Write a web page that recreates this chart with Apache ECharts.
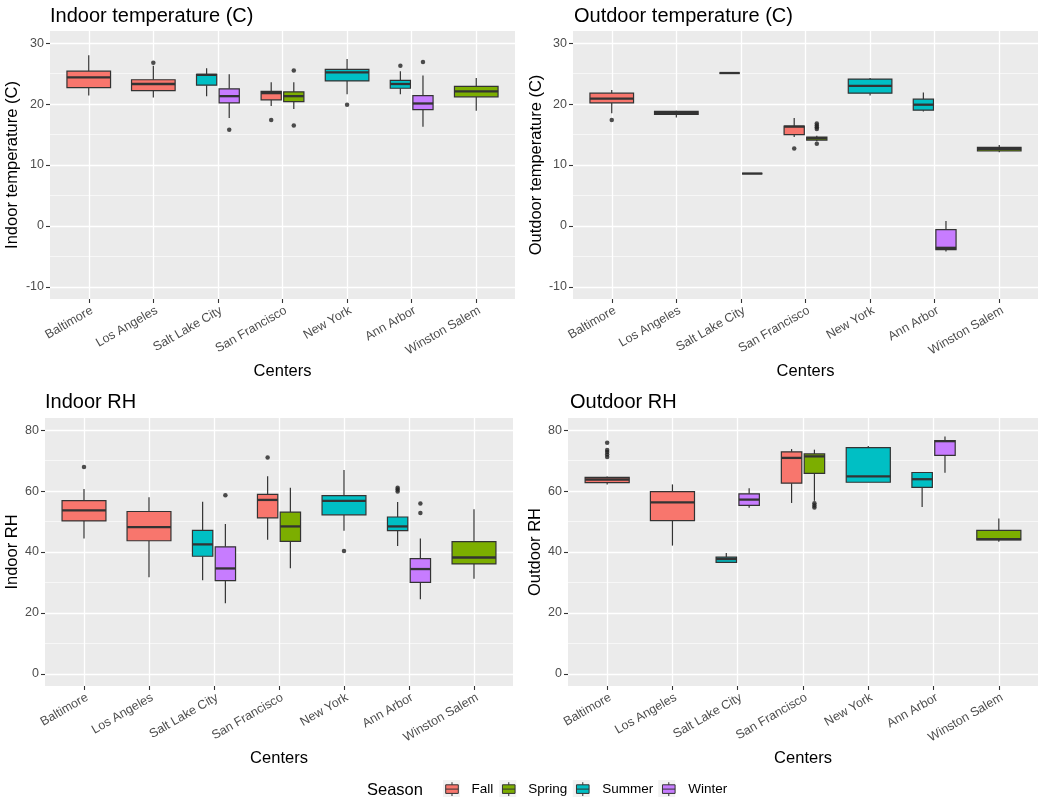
<!DOCTYPE html>
<html><head><meta charset="utf-8">
<script src="https://cdn.jsdelivr.net/npm/echarts@6/dist/echarts.min.js"></script>
<style>html,body{margin:0;padding:0;background:#fff}#chart{width:1050px;height:804px}</style>
</head><body><div id="chart"></div>
<script>
const centers = ['Baltimore','Los Angeles','Salt Lake City','San Francisco','New York','Ann Arbor','Winston Salem'];
const seasons = ['Fall','Spring','Summer','Winter'];
const seasonColors = ['#F8766D','#7CAE00','#00BFC4','#C77CFF'];
const panelTitles = ['Indoor temperature (C)','Outdoor temperature (C)','Indoor RH','Outdoor RH'];
const xTitle = 'Centers';
const legendTitle = 'Season';
const tempTicks = [-10,0,10,20,30];
const tempMinorTicks = [-5,5,15,25];
const rhTicks = [0,20,40,60,80];
const rhMinorTicks = [10,30,50,70];

// [center, season, lower whisker, Q1, median, Q3, upper whisker]
const indoorTempBoxes = [
  ['Baltimore','Fall',21.4,22.7,24.4,25.4,28.0],
  ['Los Angeles','Fall',21.1,22.2,23.3,24.0,26.3],
  ['Salt Lake City','Summer',21.3,23.1,24.8,24.9,25.9],
  ['Salt Lake City','Winter',17.7,20.2,21.3,22.5,24.9],
  ['San Francisco','Fall',19.7,20.7,21.8,22.1,23.6],
  ['San Francisco','Spring',19.2,20.4,21.3,22.0,23.6],
  ['New York','Summer',21.6,23.8,25.2,25.7,27.4],
  ['Ann Arbor','Summer',21.6,22.6,23.3,23.9,25.4],
  ['Ann Arbor','Winter',16.3,19.1,20.1,21.4,24.7],
  ['Winston Salem','Spring',18.9,21.2,22.1,22.9,24.3]
];
const indoorTempOutliers = [
  ['Los Angeles','Fall',26.8],
  ['Salt Lake City','Winter',15.8],
  ['San Francisco','Fall',17.4],
  ['San Francisco','Spring',25.5],['San Francisco','Spring',16.5],
  ['New York','Summer',19.9],
  ['Ann Arbor','Summer',26.3],
  ['Ann Arbor','Winter',26.9]
];
const outdoorTempBoxes = [
  ['Baltimore','Fall',18.5,20.2,20.9,21.8,22.3],
  ['Los Angeles','Fall',17.8,18.3,18.5,18.8,18.9],
  ['Salt Lake City','Summer',25.1,25.1,25.1,25.1,25.1],
  ['Salt Lake City','Winter',8.6,8.6,8.6,8.6,8.6],
  ['San Francisco','Fall',14.6,15.0,16.3,16.4,17.7],
  ['San Francisco','Spring',13.9,14.1,14.4,14.6,14.8],
  ['New York','Summer',21.4,21.8,23.0,24.1,24.3],
  ['Ann Arbor','Summer',18.8,19.0,19.9,20.8,21.9],
  ['Ann Arbor','Winter',-4.2,-3.9,-3.6,-0.6,0.8],
  ['Winston Salem','Spring',12.1,12.3,12.6,12.9,13.3]
];
const outdoorTempOutliers = [
  ['Baltimore','Fall',17.4],
  ['San Francisco','Fall',12.7],
  ['San Francisco','Spring',16.8],['San Francisco','Spring',16.5],['San Francisco','Spring',16.2],
  ['San Francisco','Spring',15.9],['San Francisco','Spring',13.5]
];
const indoorRhBoxes = [
  ['Baltimore','Fall',44.4,50.2,53.7,56.9,60.7],
  ['Los Angeles','Fall',31.7,43.7,48.2,53.3,58.0],
  ['Salt Lake City','Summer',30.7,38.6,42.5,47.1,56.5],
  ['Salt Lake City','Winter',23.2,30.6,34.6,41.7,49.2],
  ['San Francisco','Fall',44.0,51.2,57.1,58.9,64.9],
  ['San Francisco','Spring',34.7,43.5,48.4,53.1,61.1],
  ['New York','Summer',47.0,52.2,56.8,58.5,66.9],
  ['Ann Arbor','Summer',42.0,47.0,48.4,51.5,56.4],
  ['Ann Arbor','Winter',24.5,30.0,34.4,37.8,44.4],
  ['Winston Salem','Spring',31.2,36.1,38.2,43.4,54.0]
];
const indoorRhOutliers = [
  ['Baltimore','Fall',67.9],
  ['Salt Lake City','Winter',58.6],
  ['San Francisco','Fall',71.0],
  ['New York','Summer',40.3],
  ['Ann Arbor','Summer',61.1],['Ann Arbor','Summer',60.5],['Ann Arbor','Summer',59.9],
  ['Ann Arbor','Winter',55.9],['Ann Arbor','Winter',52.8]
];
const outdoorRhBoxes = [
  ['Baltimore','Fall',62.2,62.8,63.8,64.5,64.8],
  ['Los Angeles','Fall',42.1,50.3,56.3,59.8,62.2],
  ['Salt Lake City','Summer',36.6,36.6,37.7,38.3,39.7],
  ['Salt Lake City','Winter',54.5,55.3,57.2,59.1,60.9],
  ['San Francisco','Fall',56.1,62.6,70.9,72.9,73.8],
  ['San Francisco','Spring',56.8,65.8,71.4,72.2,73.6],
  ['New York','Summer',62.9,62.9,64.8,74.3,74.8],
  ['Ann Arbor','Summer',54.8,61.2,63.9,66.1,66.3],
  ['Ann Arbor','Winter',66.0,71.7,76.4,76.6,77.9],
  ['Winston Salem','Spring',43.4,44.0,44.2,47.1,51.0]
];
const outdoorRhOutliers = [
  ['Baltimore','Fall',75.9],['Baltimore','Fall',73.5],['Baltimore','Fall',72.8],
  ['Baltimore','Fall',72.0],['Baltimore','Fall',71.2],
  ['San Francisco','Spring',56.0],['San Francisco','Spring',55.3],['San Francisco','Spring',54.6]
];

const FONT = "'Liberation Sans', Arial, sans-serif";
const DODGE = 0.7;

const panels = [
  {boxes: indoorTempBoxes, outliers: indoorTempOutliers, ticks: tempTicks, minor: tempMinorTicks, min: -12, max: 32,
   grid: {left: 50, top: 31, width: 465, height: 268}, title: {left: 50, top: 6}, nameGap: 29},
  {boxes: outdoorTempBoxes, outliers: outdoorTempOutliers, ticks: tempTicks, minor: tempMinorTicks, min: -12, max: 32,
   grid: {left: 573, top: 31, width: 465, height: 268}, title: {left: 574, top: 6}, nameGap: 28},
  {boxes: indoorRhBoxes, outliers: indoorRhOutliers, ticks: rhTicks, minor: rhMinorTicks, min: -4, max: 84,
   grid: {left: 45, top: 418, width: 468, height: 268}, title: {left: 45, top: 392}, nameGap: 24},
  {boxes: outdoorRhBoxes, outliers: outdoorRhOutliers, ticks: rhTicks, minor: rhMinorTicks, min: -4, max: 84,
   grid: {left: 568, top: 418, width: 470, height: 268}, title: {left: 570, top: 392}, nameGap: 23}
];

function slotInfo(boxes, center, season) {
  const present = seasons.filter(s => boxes.some(b => b[0] === center && b[1] === s));
  return {slot: present.indexOf(season), n: present.length};
}
function dodgeX(boxes, center, season) {
  const {slot, n} = slotInfo(boxes, center, season);
  const w = DODGE / n;
  return centers.indexOf(center) + 1 - DODGE / 2 + w * (slot + 0.5);
}

function renderBox(params, api) {
  const cat = api.value(0), slot = api.value(1), n = api.value(2);
  const slotW = DODGE / n;
  const cx = cat - DODGE / 2 + slotW * (slot + 0.5);
  const x = api.coord([cx, api.value(5)])[0];
  const half = api.size([slotW, 0])[0] / 2 - (n > 1 ? 1.2 : 0.8);
  const y = k => api.coord([cx, api.value(k)])[1];
  const yl = y(3), y1 = y(4), ym = y(5), y3 = y(6), yh = y(7);
  const fill = api.visual('color');
  const stroke = '#333333';
  return {type: 'group', children: [
    {type: 'line', shape: {x1: x, y1: yh, x2: x, y2: y3}, style: {stroke, lineWidth: 1.2}},
    {type: 'line', shape: {x1: x, y1: y1, x2: x, y2: yl}, style: {stroke, lineWidth: 1.2}},
    {type: 'rect', shape: {x: x - half, y: y3, width: 2 * half, height: y1 - y3}, style: {fill, stroke, lineWidth: 1.2}},
    {type: 'line', shape: {x1: x - half, y1: ym, x2: x + half, y2: ym}, style: {stroke, lineWidth: 2.3}}
  ]};
}

const catValues = centers.map((c, i) => i + 1);
const legendCommon = {
  data: seasons, left: 443, top: 780, padding: 0, orient: 'horizontal', selectedMode: false,
  itemWidth: 17, itemHeight: 17, itemGap: 6.5,
  textStyle: {fontSize: 13.5, color: '#000000', fontFamily: FONT, padding: [0, 0, 0, 6]}
};
const option = {
  animation: false,
  backgroundColor: '#ffffff',
  textStyle: {fontFamily: FONT},
  title: panels.map((p, i) => ({
    text: panelTitles[i], left: p.title.left, top: p.title.top, padding: 0,
    textStyle: {fontSize: 20, fontWeight: 'normal', color: '#000000', fontFamily: FONT}
  })),
  grid: panels.map(p => Object.assign({show: true, backgroundColor: '#EBEBEB', borderWidth: 0}, p.grid)),
  xAxis: panels.map((p, i) => ({
    type: 'value', gridIndex: i, min: 0.4, max: 7.6,
    name: xTitle, nameLocation: 'middle', nameGap: 64,
    nameTextStyle: {fontSize: 16.5, color: '#000000', fontFamily: FONT},
    axisLine: {show: false, onZero: false},
    axisTick: {show: true, customValues: catValues, length: 4, lineStyle: {color: '#333333', width: 1.1}},
    axisLabel: {customValues: catValues, formatter: v => centers[Math.round(v) - 1], rotate: 30,
      align: 'right', verticalAlign: 'top',
      fontSize: 12.5, color: '#4D4D4D', margin: 5, fontFamily: FONT},
    splitLine: {show: true, lineStyle: {color: '#ffffff', width: 1.3}}
  })),
  yAxis: panels.flatMap((p, i) => [
    {
      type: 'value', gridIndex: i, min: p.min, max: p.max,
      name: panelTitles[i], nameLocation: 'middle', nameGap: p.nameGap,
      nameTextStyle: {fontSize: 16.5, color: '#000000', fontFamily: FONT},
      axisLine: {show: false, onZero: false},
      axisTick: {show: true, customValues: p.ticks, length: 4, lineStyle: {color: '#333333', width: 1.1}},
      axisLabel: {customValues: p.ticks, fontSize: 12.5, color: '#4D4D4D', margin: 6, fontFamily: FONT},
      splitLine: {show: true, lineStyle: {color: '#ffffff', width: 1.3}}
    },
    {
      type: 'value', gridIndex: i, min: p.min, max: p.max, position: 'left',
      axisLine: {show: false, onZero: false},
      axisTick: {show: false, customValues: p.minor},
      axisLabel: {show: false, customValues: p.minor},
      splitLine: {show: true, lineStyle: {color: '#ffffff', width: 0.6}}
    }
  ]),
  legend: [
    Object.assign({}, legendCommon, {
      z: 2, icon: 'rect',
      itemStyle: {color: '#F2F2F2', borderWidth: 0},
      textStyle: Object.assign({}, legendCommon.textStyle, {color: 'rgba(0,0,0,0)'})
    }),
    Object.assign({}, legendCommon, {
      z: 3,
      icon: 'path://M0,0M17,17M2.2,4.3H14.8V12.9H2.2Z M2.2,8.6H14.8 M8.5,1.7V4.3 M8.5,12.9V15.5',
      itemStyle: {borderColor: '#333333', borderWidth: 1}
    })
  ],
  graphic: [{type: 'text', left: 367, top: 782,
    style: {text: legendTitle, fontSize: 16.5, fill: '#000000', fontFamily: FONT}}],
  series: panels.flatMap((p, i) => {
    const boxSeries = seasons.map((s, si) => ({
      type: 'custom', name: s, xAxisIndex: i, yAxisIndex: 2 * i,
      itemStyle: {color: seasonColors[si]},
      renderItem: renderBox,
      encode: {x: 0, y: 5},
      data: p.boxes.filter(b => b[1] === s).map(b => {
        const {slot, n} = slotInfo(p.boxes, b[0], s);
        return [centers.indexOf(b[0]) + 1, slot, n, b[2], b[3], b[4], b[5], b[6]];
      })
    }));
    const outSeries = {
      type: 'scatter', name: 'outliers', xAxisIndex: i, yAxisIndex: 2 * i,
      symbolSize: 4.5, itemStyle: {color: '#222222'}, silent: true,
      data: p.outliers.map(o => [dodgeX(p.boxes, o[0], o[1]), o[2]])
    };
    return boxSeries.concat([outSeries]);
  })
};
echarts.init(document.getElementById('chart'), null, {renderer: 'canvas'}).setOption(option);
</script>
</body></html>
